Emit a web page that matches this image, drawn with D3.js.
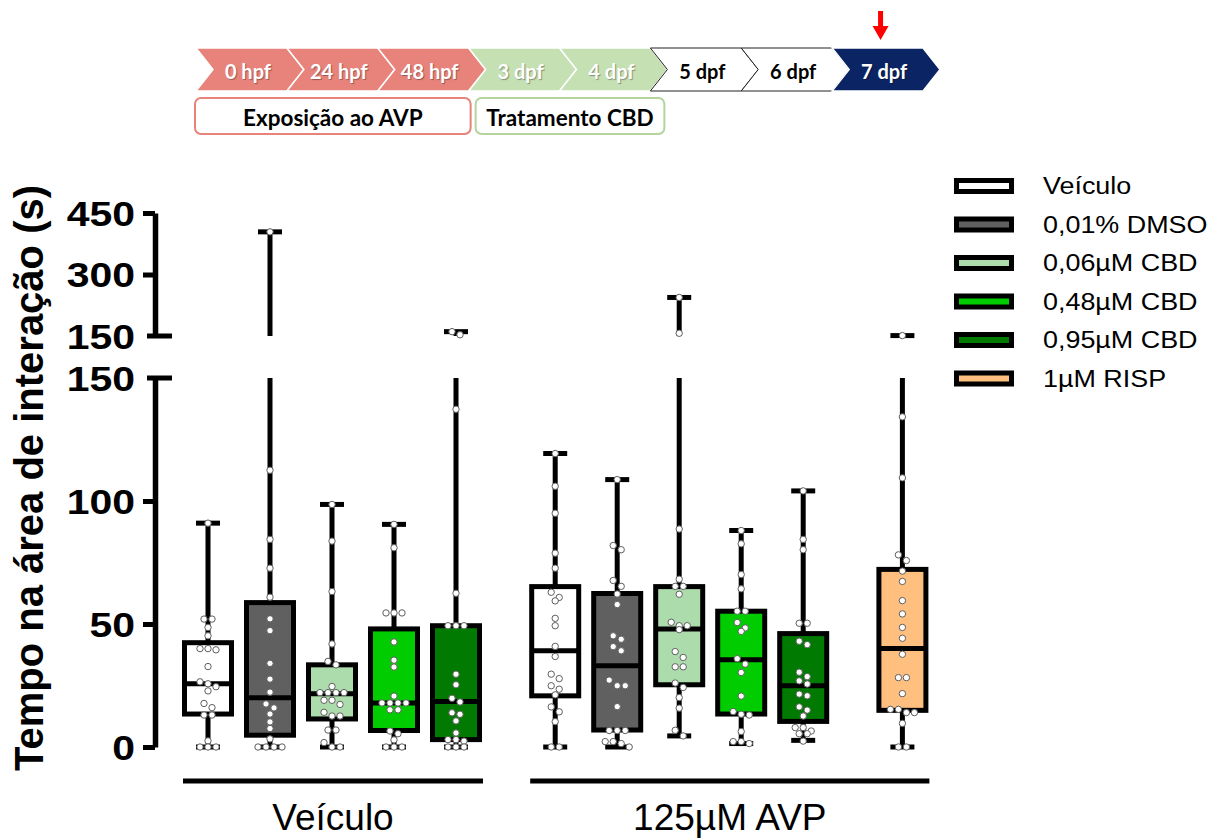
<!DOCTYPE html>
<html>
<head>
<meta charset="utf-8">
<script src="https://cdn.jsdelivr.net/npm/d3@7"></script>
<style>
  body { margin: 0; background: #fff; }
  svg { display: block; }
</style>
</head>
<body>
<svg id="chart" width="1225" height="838"></svg>
<script>
// ---------- timeline ----------
const stages = ["0 hpf", "24 hpf", "48 hpf", "3 dpf", "4 dpf", "5 dpf", "6 dpf", "7 dpf"];
const stagePhase = ["avp", "avp", "avp", "cbd", "cbd", "free", "free", "test"];
const phaseNames = ["avp", "cbd"];
const phaseLabels = ["Exposição ao AVP", "Tratamento CBD"];

// ---------- groups / treatments ----------
const groups = ["Veículo", "125µM AVP"];
const treatments = ["Veículo", "0,01% DMSO", "0,06µM CBD", "0,48µM CBD", "0,95µM CBD", "1µM RISP"];
const treatmentColors = ["#ffffff", "#606060", "#acdcac", "#00cc00", "#007a00", "#ffbf7f"];

// one entry per box: group index and treatment index
const boxGroup     = [0, 0, 0, 0, 0, 1, 1, 1, 1, 1, 1];
const boxTreatment = [0, 1, 2, 3, 4, 0, 1, 2, 3, 4, 5];

// box statistics (s)
const whiskerMin = [0,    0,    0,    0,    0,     0,    0,    4.5,  1.4,  2.7,  0];
const q1         = [13.4, 4.8,  11.4, 6.7,  3,     20.8, 6.9,  25.3, 13.4, 10.4, 14.9];
const median     = [25.7, 20,   21.6, 17.9, 18.5,  39.1, 33,   48,   35.5, 24.9, 40];
const q3         = [42.4, 58.7, 33.4, 48,   49.3,  65.2, 62.4, 65.2, 55.2, 46.1, 72.2];
const whiskerMax = [91,   404,  98.6, 90.5, 160.6, 119.3, 108.7, 244, 88,   104.1, 151];

// individual larvae (s)
const ptsVeiculoVeiculo = [91, 52, 52, 48.6, 45.2, 40, 39.5, 40, 32.7, 26.5, 25.7, 24.5, 22.8, 17.7, 16, 13, 13, 2.5, 0, 0, 0];
const ptsVeiculoDMSO    = [404, 112.5, 84.4, 72.7, 60.9, 52.1, 47.3, 34, 27.6, 22.3, 17.5, 15.9, 13.4, 10.2, 7.5, 3.3, 0, 0, 0, 0];
const ptsVeiculoCBD006  = [98.6, 83.7, 63.2, 41.9, 34.8, 33.4, 24.6, 22.1, 22.1, 22.1, 22.1, 19, 19, 17.3, 14.1, 12.6, 12.6, 6.9, 6.9, 1.8, 0, 0];
const ptsVeiculoCBD048  = [90.5, 81, 54.5, 54.5, 54.5, 42.7, 35.3, 32.5, 20.7, 17.9, 17.9, 17.9, 17.9, 15.1, 15.1, 6.5, 5.4, 2.9, 0, 0, 0];
const ptsVeiculoCBD095  = [160.6, 153, 137.3, 62.5, 49.3, 49.3, 49.3, 29.6, 25.3, 19.8, 18.3, 13.9, 13.3, 10.6, 5.7, 3, 3, 2.4, 0, 0, 0];
const ptsAVPVeiculo     = [119.3, 106, 95, 78.8, 72.7, 62.9, 60.8, 59.4, 52.3, 49.3, 40.9, 36.8, 29.6, 27.8, 24.9, 23.5, 21.2, 16.3, 14.3, 10.3, 0, 0];
const ptsAVPDMSO        = [108.7, 81.9, 80.2, 67.7, 65.3, 62.2, 57.9, 45.2, 43.8, 40.8, 39.1, 27.2, 24.9, 24.9, 16.4, 6.7, 6.7, 6.7, 2.2, 2.2, 1.4, 0];
const ptsAVPCBD006      = [244, 156.6, 88.6, 68.2, 65.3, 65.3, 62.1, 50.7, 49.3, 49.3, 47.7, 38.8, 36.4, 32.6, 32.6, 26, 24.2, 20.1, 15.8, 6.8, 4.5];
const ptsAVPCBD048      = [88, 82.6, 70.1, 64.3, 55.2, 55.2, 50.6, 48.4, 47, 35.9, 33.7, 30.3, 20.7, 14.4, 13.3, 13, 6.3, 2.2, 2.2, 1.4];
const ptsAVPCBD095      = [104.1, 84.4, 80.2, 50.3, 50.3, 43, 41.6, 30.4, 28.6, 26.9, 25.6, 21.5, 20.8, 16.3, 15, 12.6, 7.9, 7.9, 6.5, 5.4, 5.4, 2.4];
const ptsAVPRISP        = [151, 134.2, 109.4, 78.1, 75.8, 71.5, 67.3, 59.5, 54.1, 48.6, 44.2, 37.7, 28.2, 28.2, 21.7, 15.3, 15.3, 14, 14, 9.6, 0, 0];
const boxPoints = [ptsVeiculoVeiculo, ptsVeiculoDMSO, ptsVeiculoCBD006, ptsVeiculoCBD048, ptsVeiculoCBD095,
                   ptsAVPVeiculo, ptsAVPDMSO, ptsAVPCBD006, ptsAVPCBD048, ptsAVPCBD095, ptsAVPRISP];

// axis ticks (broken axis)
const lowerTicks = [0, 50, 100, 150];
const upperTicks = [150, 300, 450];
const yTitle = "Tempo na área de interação (s)";

// ======================================================
const svg = d3.select("#chart");
const SANS = "'Liberation Sans', Arial, sans-serif";
const HEAD = "Lato, 'Open Sans', sans-serif";

// ---------- timeline header ----------
const stageX = d3.scaleBand().domain(stages).range([196, 923]).padding(0);
const step = stageX.step();
const tipW = 17, rowTop = 48, rowBot = 91, rowMid = (rowTop + rowBot) / 2;
const phaseFill = { avp: "#e8837c", cbd: "#c5e0b3", free: "#ffffff", test: "#0b2463" };
const phaseText = { avp: "#ffffff", cbd: "#ffffff", free: "#000000", test: "#ffffff" };

const head = svg.append("g");
stages.forEach((s, i) => {
  const L = stageX(s), R = L + step;
  const ph = stagePhase[i];
  head.append("path")
    .attr("d", `M${L},${rowTop}L${R},${rowTop}L${R + tipW},${rowMid}L${R},${rowBot}L${L},${rowBot}L${L + tipW},${rowMid}Z`)
    .attr("fill", phaseFill[ph])
    .attr("stroke", ph === "free" ? "#222" : "#ffffff")
    .attr("stroke-width", ph === "free" ? 1 : 1.5)
    .attr("stroke-linejoin", "miter");
});
stages.forEach((s, i) => {
  const ph = stagePhase[i];
  head.append("text")
    .attr("x", stageX(s) + step / 2 + tipW / 2 - 2)
    .attr("y", rowMid + 1)
    .attr("text-anchor", "middle")
    .attr("dominant-baseline", "central")
    .attr("font-family", HEAD).attr("font-weight", 700).attr("font-size", 20)
    .attr("fill", phaseText[ph])
    .style("text-shadow", ph === "free" ? "none" : "1px 1px 1px rgba(0,0,0,0.35)")
    .text(s);
});

// phase boxes below the chevrons
phaseNames.forEach((p, i) => {
  const idx = stagePhase.map((d, k) => d === p ? k : -1).filter(k => k >= 0);
  const x1 = stageX(stages[idx[0]]) + (i === 0 ? -1 : 7);
  const x2 = stageX(stages[idx[idx.length - 1]]) + step + (i === 0 ? 2 : 14);
  head.append("rect")
    .attr("x", x1).attr("y", 98).attr("width", x2 - x1).attr("height", 36)
    .attr("rx", 6).attr("ry", 6)
    .attr("fill", "#ffffff")
    .attr("stroke", p === "cbd" ? "#b3d59c" : phaseFill[p])
    .attr("stroke-width", 2);
  head.append("text")
    .attr("x", (x1 + x2) / 2).attr("y", 117)
    .attr("text-anchor", "middle").attr("dominant-baseline", "central")
    .attr("font-family", HEAD).attr("font-weight", 700).attr("font-size", 22.5)
    .attr("fill", "#000")
    .text(phaseLabels[i]);
});

// red marker over the test day
{
  const ax = stageX(stages[stages.length - 1]) + step / 2 + 3;
  head.append("rect").attr("x", ax - 2.5).attr("y", 11).attr("width", 5).attr("height", 16).attr("fill", "#ff0000");
  head.append("path").attr("d", `M${ax - 8},26L${ax + 8},26L${ax},40Z`).attr("fill", "#ff0000");
}

// ---------- scales ----------
const yLow = d3.scaleLinear().domain([0, 150]).range([747, 378]);
const yHigh = d3.scaleLinear().domain([150, 450]).range([336, 213]);
const y = v => (v <= 150 ? yLow(v) : yHigh(v));

const slotOf = (g, t) => g * 5.6 + (t === 5 ? 5.6 : t);
const x = d3.scaleLinear().domain([0, 1]).range([208, 270]);

const axisX = 155;

// ---------- axes ----------
function styleAxis(g) {
  g.select(".domain").attr("stroke", "#000").attr("stroke-width", 5.5);
  g.selectAll(".tick line").attr("stroke", "#000").attr("stroke-width", 5);
  g.selectAll(".tick text")
    .attr("x", 0).attr("dy", "0.35em")
    .attr("transform", "translate(-20,0) scale(1.17,1)")
    .attr("text-anchor", "end")
    .attr("font-family", SANS).attr("font-weight", 700).attr("font-size", 35)
    .attr("fill", "#000");
  g.selectAll(".tick").filter(d => d === 150).select("line").remove();
}
const gLow = svg.append("g").attr("transform", `translate(${axisX},0)`)
  .call(d3.axisLeft(yLow).tickValues(lowerTicks).tickSize(12).tickSizeOuter(0).tickFormat(d3.format("d")));
styleAxis(gLow);
const gHigh = svg.append("g").attr("transform", `translate(${axisX},0)`)
  .call(d3.axisLeft(yHigh).tickValues(upperTicks).tickSize(12).tickSizeOuter(0).tickFormat(d3.format("d")));
styleAxis(gHigh);
// break bars where the two segments meet
[yLow(150), yHigh(150)].forEach(yy => {
  svg.append("line").attr("x1", axisX - 8).attr("x2", axisX + 17)
    .attr("y1", yy).attr("y2", yy).attr("stroke", "#000").attr("stroke-width", 5);
});

svg.append("text")
  .attr("transform", `translate(43,${(yLow(0) + yHigh(450)) / 2 - 2}) rotate(-90)`)
  .attr("text-anchor", "middle")
  .attr("font-family", SANS).attr("font-weight", 700).attr("font-size", 40)
  .attr("fill", "#000")
  .text(yTitle);

// ---------- boxes ----------
const boxW = 47, capW = 24, lw = 5;
const plot = svg.append("g");

boxPoints.forEach((pts, i) => {
  const cx = x(slotOf(boxGroup[i], boxTreatment[i]));
  const g = plot.append("g");
  const line = (x1, y1, x2, y2) => g.append("line")
    .attr("x1", x1).attr("y1", y1).attr("x2", x2).attr("y2", y2)
    .attr("stroke", "#000").attr("stroke-width", lw);

  // lower whisker + cap
  line(cx, y(q1[i]), cx, y(whiskerMin[i]));
  line(cx - capW / 2, y(whiskerMin[i]), cx + capW / 2, y(whiskerMin[i]));
  // upper whisker, split across the axis break if needed
  if (whiskerMax[i] > 150) {
    line(cx, y(q3[i]), cx, yLow(150));
    line(cx, yHigh(150), cx, yHigh(whiskerMax[i]));
  } else {
    line(cx, y(q3[i]), cx, y(whiskerMax[i]));
  }
  line(cx - capW / 2, y(whiskerMax[i]), cx + capW / 2, y(whiskerMax[i]));

  // box and median
  g.append("rect")
    .attr("x", cx - boxW / 2).attr("y", y(q3[i]))
    .attr("width", boxW).attr("height", y(q1[i]) - y(q3[i]))
    .attr("fill", treatmentColors[boxTreatment[i]])
    .attr("stroke", "#000").attr("stroke-width", lw);
  line(cx - boxW / 2, y(median[i]), cx + boxW / 2, y(median[i]));

  // scatter, spread horizontally where dots would overlap
  const ys = pts.map(v => y(v)).sort((a, b) => a - b);
  const rows = [];
  ys.forEach(py => {
    const last = rows[rows.length - 1];
    if (last && py - last[0] < 6) last.push(py); else rows.push([py]);
  });
  const dots = [];
  rows.forEach(r => r.forEach((py, k) => dots.push({ px: cx + (k - (r.length - 1) / 2) * 8, py })));
  g.selectAll("circle").data(dots).join("circle")
    .attr("cx", d => d.px).attr("cy", d => d.py).attr("r", 3.2)
    .attr("fill", "#fff").attr("stroke", "#5e5e5e").attr("stroke-width", 1);
});

// ---------- group underlines and labels ----------
groups.forEach((gname, gi) => {
  const idx = boxGroup.map((g, k) => g === gi ? k : -1).filter(k => k >= 0);
  const x1 = x(slotOf(gi, boxTreatment[idx[0]])) - 25;
  const x2 = x(slotOf(gi, boxTreatment[idx[idx.length - 1]])) + 27;
  svg.append("line").attr("x1", x1).attr("x2", x2).attr("y1", 781).attr("y2", 781)
    .attr("stroke", "#000").attr("stroke-width", 5);
  svg.append("text")
    .attr("x", (x1 + x2) / 2).attr("y", 830)
    .attr("text-anchor", "middle")
    .attr("font-family", SANS).attr("font-size", 37)
    .attr("fill", "#000")
    .text(gname);
});

// ---------- legend ----------
const legend = svg.append("g");
treatments.forEach((t, i) => {
  const cy = 186 + i * 38.5;
  legend.append("rect")
    .attr("x", 956.5).attr("y", cy - 5.5).attr("width", 55).attr("height", 11)
    .attr("fill", treatmentColors[i]).attr("stroke", "#000").attr("stroke-width", 5);
  legend.append("text")
    .attr("transform", `translate(1043,${cy}) scale(1.17,1)`)
    .attr("dominant-baseline", "central")
    .attr("font-family", SANS).attr("font-size", 23)
    .attr("fill", "#000")
    .text(t);
});
</script>
</body>
</html>
